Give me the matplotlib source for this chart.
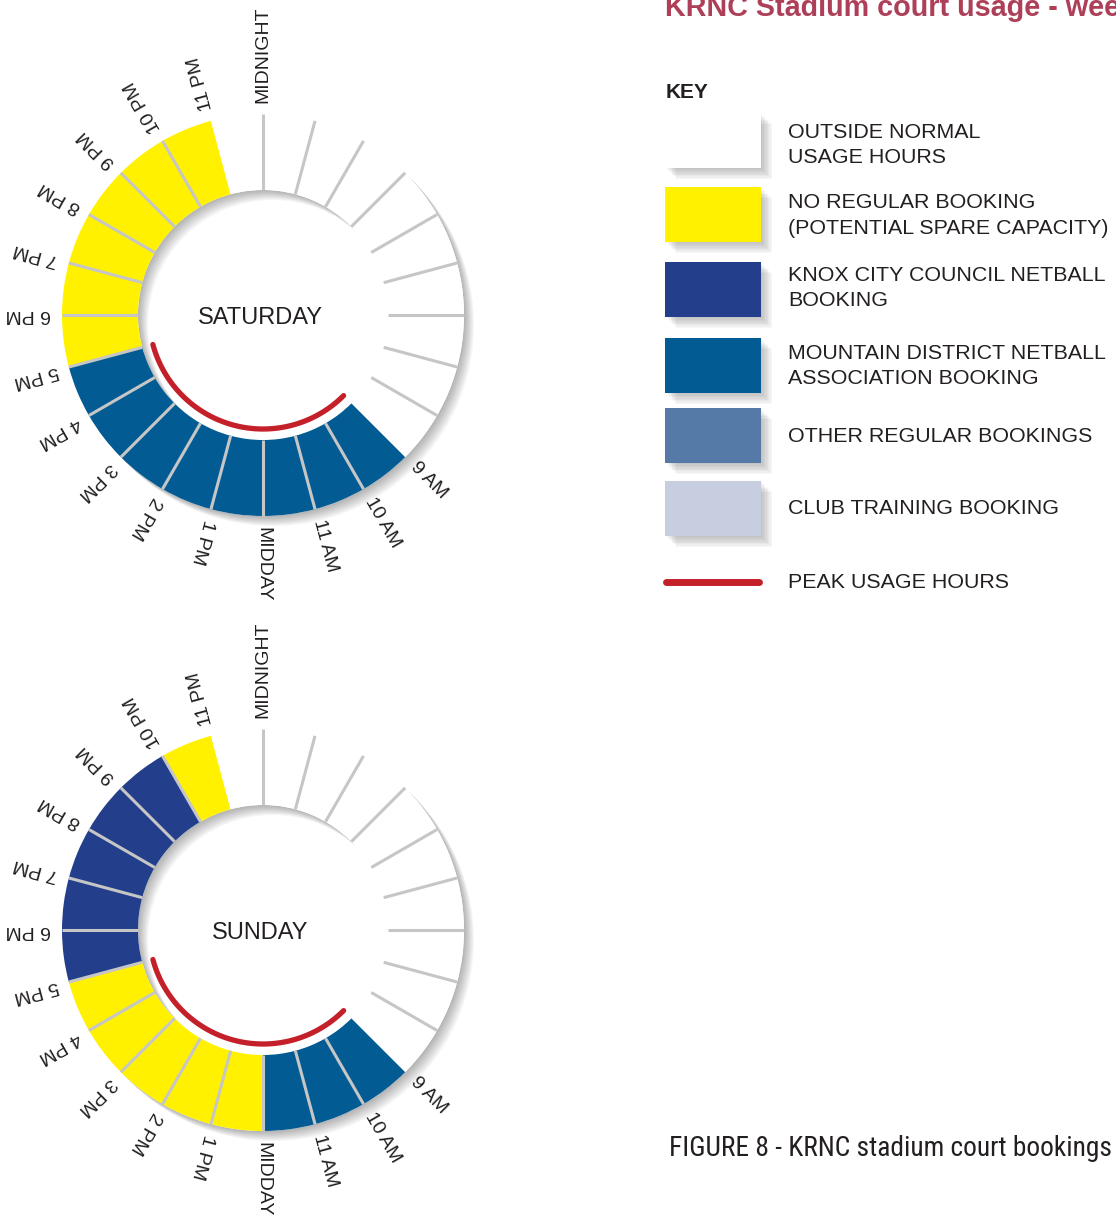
import numpy as np
import matplotlib
matplotlib.use('Agg')
import matplotlib.pyplot as plt
import matplotlib.patheffects as pe
from matplotlib.patches import Rectangle
from matplotlib import font_manager

# ---------------- data ----------------
hours = list(range(24))
categories = ['outside', 'none', 'knox', 'mdna', 'other', 'club']
category_labels = ['OUTSIDE NORMAL\nUSAGE HOURS',
                   'NO REGULAR BOOKING\n(POTENTIAL SPARE CAPACITY)',
                   'KNOX CITY COUNCIL NETBALL\nBOOKING',
                   'MOUNTAIN DISTRICT NETBALL\nASSOCIATION BOOKING',
                   'OTHER REGULAR BOOKINGS',
                   'CLUB TRAINING BOOKING']
category_colors = ['#ffffff', '#fff100', '#233f8b', '#035b93', '#557aa8', '#c6cee0']
saturday = ['outside'] * 9 + ['mdna'] * 8 + ['none'] * 6 + ['outside']
sunday = ['outside'] * 9 + ['mdna'] * 3 + ['none'] * 5 + ['knox'] * 5 + ['none'] + ['outside']
day_names = ['SATURDAY', 'SUNDAY']
peak_start, peak_end = 9, 17
peak_label = 'PEAK USAGE HOURS'
hour_labels = {0: 'MIDNIGHT', 9: '9 AM', 10: '10 AM', 11: '11 AM', 12: 'MIDDAY',
               13: '1 PM', 14: '2 PM', 15: '3 PM', 16: '4 PM', 17: '5 PM', 18: '6 PM',
               19: '7 PM', 20: '8 PM', 21: '9 PM', 22: '10 PM', 23: '11 PM'}
title = 'KRNC Stadium court usage - weekends'
caption = 'FIGURE 8 - KRNC stadium court bookings'
key_title = 'KEY'

# ---------------- style / layout ----------------
W, H = 1116, 1216
TXT = '#231f20'
RED = '#c4202a'
SEP = '#c6c6c6'
plt.rcParams['font.family'] = ['Liberation Sans', 'DejaVu Sans']

# look for a condensed / narrow face for the caption
narrow_fp = None
for pref in ['Liberation Sans Narrow', 'Roboto Condensed', 'Open Sans Condensed']:
    for f in font_manager.fontManager.ttflist:
        if f.name == pref and f.style == 'normal' and f.weight in (300, 400, 'normal', 'light', 'regular'):
            narrow_fp = font_manager.FontProperties(fname=f.fname)
            break
    if narrow_fp is not None:
        break
if narrow_fp is None:
    for f in font_manager.fontManager.ttflist:
        if (('Condensed' in f.fname or 'Narrow' in f.fname) and 'Bold' not in f.fname
                and 'Oblique' not in f.fname and 'Italic' not in f.fname):
            narrow_fp = font_manager.FontProperties(fname=f.fname)
            break
if narrow_fp is None:
    narrow_fp = font_manager.FontProperties(family='Liberation Sans')

centers = [(263, 315), (263, 930)]
R_in, R_out, R_lab, R_peak = 125, 201, 212, 114
half = 250

color_of = dict(zip(categories, category_colors))

fig = plt.figure(figsize=(W / 100, H / 100), dpi=100)
fig.patch.set_facecolor('white')

# overlay axes in pixel coordinates for key / titles
axo = fig.add_axes([0, 0, 1, 1])
axo.set_xlim(0, W)
axo.set_ylim(H, 0)
axo.axis('off')


def shadow_effects(n, step, alpha):
    effs = [pe.SimplePatchShadow(offset=(k * step, -k * step), shadow_rgbFace='black', alpha=alpha)
            for k in range(1, n + 1)]
    return effs + [pe.Normal()]


for day, schedule, (cx, cy) in zip(day_names, [saturday, sunday], centers):
    ax = fig.add_axes([(cx - half) / W, (H - cy - half) / H, 2 * half / W, 2 * half / H],
                      projection='polar')
    ax.set_theta_zero_location('N')
    ax.set_theta_direction(-1)
    ax.set_ylim(0, half)
    ax.axis('off')
    ax.patch.set_alpha(0)

    theta = np.deg2rad(np.array(hours) * 15.0)
    step = np.deg2rad(15.0)
    # ring shadow
    ax.bar(0, R_out - R_in, width=2 * np.pi, bottom=R_in, align='edge', color='white',
           linewidth=0, zorder=1, path_effects=shadow_effects(8, 0.9, 0.04))
    # hour segments
    ax.bar(theta, R_out - R_in, width=step, bottom=R_in, align='edge',
           color=[color_of[c] for c in schedule], linewidth=0, zorder=2)
    # separators (none where a booked hour meets an unused hour)
    for h, t in zip(hours, theta):
        prev, cur = schedule[h - 1], schedule[h]
        if (prev == 'outside') != (cur == 'outside'):
            continue
        ax.plot([t, t], [R_in, R_out], color=SEP, lw=2.2, zorder=3, solid_capstyle='butt')
    # peak arc
    tp = np.linspace(peak_start * step, peak_end * step, 120)
    ax.plot(tp, np.full_like(tp, R_peak), color=RED, lw=3.8, solid_capstyle='round', zorder=4)
    # hour labels
    for h, lab in hour_labels.items():
        deg = h * 15.0
        ax.text(np.deg2rad(deg), R_lab, lab, rotation=90 - deg, rotation_mode='anchor',
                ha='left', va='center', fontsize=14, color=TXT)
    ax.annotate(day, xy=(0, 0), xytext=(-2, -2), textcoords='offset points',
                ha='center', va='center', fontsize=17, color=TXT)

# title
axo.text(665, 16, title, fontsize=20.7, fontweight='bold', color='#ae3f58',
         ha='left', va='baseline')
axo.text(666, 92, key_title, fontsize=15, fontweight='bold', color=TXT, ha='left', va='center')

# key swatches
sw_tops = [113, 187, 262, 338, 408, 481]
txt_y = [145, 215.5, 288, 366, 437, 508]
sw_x, sw_w, sw_h = 665, 96, 55
for top, ty, col, lab in zip(sw_tops, txt_y, category_colors, category_labels):
    r = Rectangle((sw_x, top), sw_w, sw_h, facecolor=col, edgecolor='none', zorder=2,
                  path_effects=shadow_effects(8, 1.0, 0.03))
    axo.add_patch(r)
    axo.text(788, ty, lab, ha='left', va='center', fontsize=15.4,
             color=TXT, linespacing=1.4)
axo.plot([666, 759], [582, 582], color=RED, lw=5, solid_capstyle='round')
axo.text(788, 583, peak_label, ha='left', va='center', fontsize=15.4, color=TXT)

# caption: fit its width to the space it takes in the figure
cap = axo.text(669, 1148, caption, ha='left', va='center', fontsize=24, color=TXT,
               fontproperties=narrow_fp)
cap.set_fontsize(24)
fig.canvas.draw()
wpx = cap.get_window_extent().width
target = 1113 - 669
if wpx > target:
    cap.set_fontsize(24 * target / wpx)

fig.savefig('out.png', dpi=100, facecolor='white')
